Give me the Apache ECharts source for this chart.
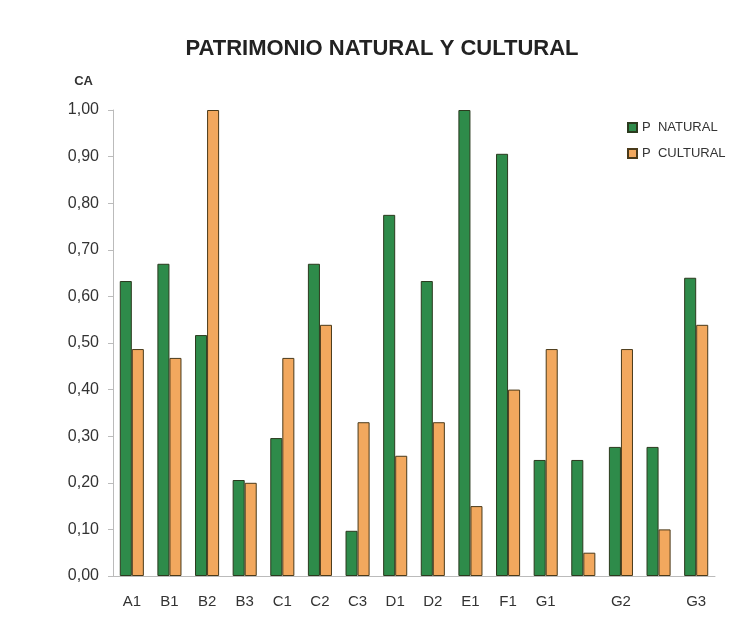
<!DOCTYPE html>
<html>
<head>
<meta charset="utf-8">
<script src="https://cdn.jsdelivr.net/npm/echarts@6/dist/echarts.min.js"></script>
<style>
  html, body { margin: 0; padding: 0; background: #fff; }
  #chart { width: 732px; height: 626px; }
</style>
</head>
<body>
<div id="chart"></div>
<script>
// datos
var categorias = ['A1', 'B1', 'B2', 'B3', 'C1', 'C2', 'C3', 'D1', 'D2', 'E1', 'F1', 'G1', '', 'G2', ' ', 'G3'];
var pNatural = [0.633, 0.67, 0.517, 0.206, 0.296, 0.67, 0.097, 0.775, 0.633, 1.0, 0.906, 0.249, 0.249, 0.277, 0.277, 0.64];
var pCultural = [0.487, 0.468, 1.0, 0.2, 0.468, 0.539, 0.33, 0.258, 0.33, 0.15, 0.4, 0.487, 0.05, 0.487, 0.1, 0.539];

var chart = echarts.init(document.getElementById('chart'));

chart.setOption({
  backgroundColor: '#fff',
  animation: false,
  textStyle: { fontFamily: 'Liberation Sans, Arial, sans-serif' },
  title: {
    text: 'PATRIMONIO NATURAL Y CULTURAL',
    left: 377,
    textAlign: 'center',
    top: 33,
    textStyle: { fontSize: 22, fontWeight: 'bold', color: '#222' }
  },
  legend: {
    orient: 'vertical',
    left: 622,
    top: 116,
    itemWidth: 9,
    itemHeight: 9,
    itemGap: 13,
    icon: 'rect',
    textStyle: { fontSize: 13, color: '#333' },
    data: ['P  NATURAL', 'P  CULTURAL']
  },
  grid: { left: 113, right: 17, top: 110, bottom: 50 },
  xAxis: {
    type: 'category',
    data: categorias,
    axisLine: { lineStyle: { color: '#bbb' } },
    axisTick: { alignWithLabel: false, length: 5, lineStyle: { color: '#bbb' } },
    axisLabel: { fontSize: 15, color: '#333', margin: 18, interval: 0 }
  },
  yAxis: {
    type: 'value',
    name: 'CA',
    nameLocation: 'end',
    nameGap: 22,
    nameTextStyle: { fontSize: 13, fontWeight: 'bold', color: '#333', align: 'right', padding: [0, 20, 0, 0] },
    min: 0,
    max: 1,
    interval: 0.1,
    axisLine: { show: true, lineStyle: { color: '#bbb' } },
    axisTick: { show: true, length: 5, lineStyle: { color: '#bbb' } },
    splitLine: { show: false },
    axisLabel: {
      fontSize: 16,
      color: '#333',
      margin: 14,
      formatter: function (v) { return v.toFixed(2).replace('.', ','); }
    }
  },
  series: [
    {
      name: 'P  NATURAL',
      type: 'bar',
      data: pNatural,
      barGap: '0%',
      barCategoryGap: '36%',
      itemStyle: { color: '#2e8b4a', borderColor: '#2b3a1e', borderWidth: 1 }
    },
    {
      name: 'P  CULTURAL',
      type: 'bar',
      data: pCultural,
      itemStyle: { color: '#f2a85e', borderColor: '#4a3a1a', borderWidth: 1 }
    }
  ]
});
</script>
</body>
</html>
